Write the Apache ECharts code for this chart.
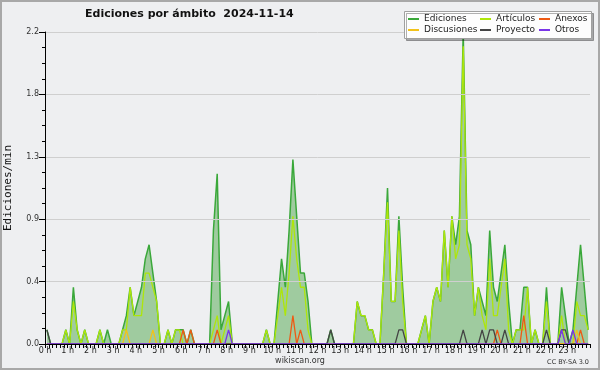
<!DOCTYPE html>
<html><head><meta charset="utf-8">
<script src="https://cdn.jsdelivr.net/npm/echarts@6/dist/echarts.min.js"></script>
<style>html,body{margin:0;padding:0;background:#eeeff1}#c{width:600px;height:370px}</style>
</head><body><div id="c"></div>
<script>
// ---- data (edits per minute, 10-minute bins, 144 per day) ----
const titleText = 'Ediciones por ámbito  2024-11-14';
const hourLabels = ['0 h','1 h','2 h','3 h','4 h','5 h','6 h','7 h','8 h','9 h','10 h','11 h','12 h','13 h','14 h','15 h','16 h','17 h','18 h','19 h','20 h','21 h','22 h','23 h'];
const yTickLabels = ['0.0','0.4','0.9','1.3','1.8','2.2'];
const seriesNames = ['Ediciones','Artículos','Anexos','Discusiones','Proyecto','Otros'];

const ediciones = [
 0.1,0,0,0,0,0.1,0,0.4,0.1,0,0.1,0,
 0,0,0.1,0,0.1,0,0,0,0.1,0.2,0.4,0.2,
 0.3,0.4,0.6,0.7,0.5,0.3,0,0,0.1,0,0.1,0.1,
 0.1,0,0.1,0,0,0,0,0,0.8,1.2,0.1,0.2,
 0.3,0,0,0,0,0,0,0,0,0,0.1,0,
 0,0.3,0.6,0.4,0.8,1.3,0.9,0.5,0.5,0.3,0,0,
 0,0,0,0.1,0,0,0,0,0,0,0.3,0.2,
 0.2,0.1,0.1,0,0,0.5,1.1,0.3,0.3,0.9,0.4,0,
 0,0,0,0.1,0.2,0,0.3,0.4,0.3,0.8,0.4,0.9,
 0.7,0.9,2.2,0.8,0.7,0.2,0.4,0.3,0.2,0.8,0.4,0.3,
 0.5,0.7,0.3,0,0.1,0.1,0.4,0.4,0,0.1,0,0,
 0.4,0,0,0,0.4,0.2,0,0.1,0.4,0.7,0.4,0.1
];
const articulos = [
 0,0,0,0,0,0.1,0,0.3,0.1,0,0.1,0,
 0,0,0.1,0,0,0,0,0,0.1,0.1,0.4,0.2,
 0.2,0.2,0.5,0.5,0.4,0.3,0,0,0.1,0,0.1,0.1,
 0,0,0,0,0,0,0,0,0.1,0.2,0,0.1,
 0.2,0,0,0,0,0,0,0,0,0,0.1,0,
 0,0.2,0.4,0.2,0.5,0.9,0.6,0.4,0.4,0.1,0,0,
 0,0,0,0,0,0,0,0,0,0,0.3,0.2,
 0.2,0.1,0.1,0,0,0.5,1.0,0.3,0.3,0.8,0.3,0,
 0,0,0,0.1,0.2,0,0.3,0.4,0.3,0.8,0.4,0.9,
 0.6,0.7,2.1,0.7,0.6,0.2,0.4,0.2,0.1,0.6,0.2,0.2,
 0.4,0.6,0.1,0,0.1,0.1,0.1,0.4,0,0.1,0,0,
 0.3,0,0,0,0.2,0,0,0,0.3,0.2,0.2,0.1
];
const anexos = [
 0,0,0,0,0,0,0,0,0,0,0,0,
 0,0,0,0,0,0,0,0,0,0,0,0,
 0,0,0,0,0,0,0,0,0,0,0,0,
 0.1,0,0.1,0,0,0,0,0,0,0.1,0,0,
 0,0,0,0,0,0,0,0,0,0,0,0,
 0,0,0,0,0,0.2,0,0.1,0,0,0,0,
 0,0,0,0,0,0,0,0,0,0,0,0,
 0,0,0,0,0,0,0,0,0,0,0,0,
 0,0,0,0,0,0,0,0,0,0,0,0,
 0,0,0,0,0,0,0,0,0,0,0,0.1,
 0,0,0,0,0,0,0.2,0,0,0,0,0,
 0,0,0,0,0,0,0,0,0,0.1,0,0
];
const discusiones = [
 0,0,0,0,0,0,0,0,0,0,0,0,
 0,0,0,0,0,0,0,0,0,0.1,0,0,
 0,0,0,0,0.1,0,0,0,0,0,0,0,
 0,0,0,0,0,0,0,0,0,0,0,0,
 0,0,0,0,0,0,0,0,0,0,0,0,
 0,0,0,0,0,0,0,0,0,0,0,0,
 0,0,0,0,0,0,0,0,0,0,0,0,
 0,0,0,0,0,0,0,0,0,0,0,0,
 0,0,0,0,0,0,0,0,0,0,0,0,
 0,0,0,0,0,0,0,0,0,0,0,0,
 0,0,0,0,0,0,0,0,0,0,0,0,
 0,0,0,0,0,0,0,0,0.1,0,0,0
];
const proyecto = [
 0.1,0,0,0,0,0,0,0,0,0,0,0,
 0,0,0,0,0,0,0,0,0,0,0,0,
 0,0,0,0,0,0,0,0,0,0,0,0,
 0,0,0,0,0,0,0,0,0,0,0,0,
 0,0,0,0,0,0,0,0,0,0,0,0,
 0,0,0,0,0,0,0,0,0,0,0,0,
 0,0,0,0.1,0,0,0,0,0,0,0,0,
 0,0,0,0,0,0,0,0,0,0.1,0.1,0,
 0,0,0,0,0,0,0,0,0,0,0,0,
 0,0,0.1,0,0,0,0,0.1,0,0.1,0.1,0,
 0,0.1,0,0,0,0,0,0,0,0,0,0,
 0.1,0,0,0,0.1,0.1,0,0,0,0,0,0
];
const otros = [
 0,0,0,0,0,0,0,0,0,0,0,0,
 0,0,0,0,0,0,0,0,0,0,0,0,
 0,0,0,0,0,0,0,0,0,0,0,0,
 0,0,0,0,0,0,0,0,0,0,0,0,
 0.1,0,0,0,0,0,0,0,0,0,0,0,
 0,0,0,0,0,0,0,0,0,0,0,0,
 0,0,0,0,0,0,0,0,0,0,0,0,
 0,0,0,0,0,0,0,0,0,0,0,0,
 0,0,0,0,0,0,0,0,0,0,0,0,
 0,0,0,0,0,0,0,0,0,0,0,0,
 0,0,0,0,0,0,0,0,0,0,0,0,
 0,0,0,0,0.1,0,0,0.1,0,0,0,0
];

// ---- build ----
const BINS_PER_HOUR = 6;
const toPts = arr => arr.map((v, i) => [(i + 0.5) / BINS_PER_HOUR, v]);
const colors = ['#3aa83a','#aee60a','#ee5a14','#f2c21a','#444444','#7a35e8'];
const values = [ediciones, articulos, anexos, discusiones, proyecto, otros];
const FONT = 'DejaVu Sans';

const series = values.map((arr, k) => {
  const s = {
    name: seriesNames[k], type: 'line', data: toPts(arr),
    showSymbol: false, symbol: 'none', silent: true,
    lineStyle: { color: colors[k], width: k === 0 ? 1.5 : 1.3 },
    itemStyle: { color: colors[k] },
    z: 2
  };
  if (k === 0) s.areaStyle = { color: '#9fcb9f', opacity: 1 };
  return s;
});

const legendCommon = {
  orient: 'vertical', top: 14, padding: 0, itemGap: 1,
  icon: 'rect', itemWidth: 11, itemHeight: 2, selectedMode: false, z: 12,
  textStyle: { fontFamily: FONT, fontSize: 9, color: '#222', lineHeight: 10 }
};

const chart = echarts.init(document.getElementById('c'), null, { renderer: 'canvas' });
chart.setOption({
  animation: false,
  backgroundColor: '#eeeff1',
  title: {
    text: titleText, left: 80, top: 4,
    textStyle: { fontFamily: FONT, fontSize: 11, fontWeight: 'bold', color: '#111' }
  },
  grid: { left: 45, right: 10, top: 32, bottom: 26, containLabel: false, outerBoundsMode: 'none' },
  xAxis: {
    type: 'value', min: 0, max: 24, interval: 1, z: 8,
    axisLine: { show: true, onZero: false, lineStyle: { color: '#000', width: 1 } },
    axisTick: { show: true, length: 4, lineStyle: { color: '#000' } },
    minorTick: { show: true, splitNumber: 6, length: 4, lineStyle: { color: '#000' } },
    axisLabel: { fontFamily: FONT, fontSize: 8, color: '#222', margin: 3,
      formatter: v => (v < 24 ? hourLabels[Math.round(v)] : '') },
    splitLine: { show: false }
  },
  yAxis: {
    type: 'value', min: 0, max: 2.2, interval: 0.44, z: 8,
    name: 'Ediciones/min', nameLocation: 'middle', nameGap: 31, nameRotate: 90,
    nameTextStyle: { fontFamily: 'DejaVu Sans Mono', fontSize: 11, color: '#111' },
    axisLine: { show: true, lineStyle: { color: '#000', width: 1 } },
    axisTick: { show: true, length: 6, lineStyle: { color: '#000' } },
    minorTick: { show: true, splitNumber: 4, length: 3, lineStyle: { color: '#000' } },
    axisLabel: { fontFamily: FONT, fontSize: 8, color: '#333', margin: 6,
      formatter: v => yTickLabels[Math.round(v / 0.44)] },
    splitLine: { show: true, lineStyle: { color: '#cfcfcf', width: 1 } }
  },
  legend: [
    Object.assign({}, legendCommon, { left: 408, data: [seriesNames[0], seriesNames[3]] }),
    Object.assign({}, legendCommon, { left: 480, data: [seriesNames[1], seriesNames[4]] }),
    Object.assign({}, legendCommon, { left: 539, data: [seriesNames[2], seriesNames[5]] })
  ],
  graphic: [
    { type: 'rect', z: 10, shape: { x: 404.5, y: 11.5, width: 187, height: 27 },
      style: { fill: '#fdfdfd', stroke: '#a0a0a0', lineWidth: 1,
        shadowColor: 'rgba(0,0,0,0.3)', shadowOffsetX: 2, shadowOffsetY: 2, shadowBlur: 0 } },
    { type: 'rect', z: 20, shape: { x: 1, y: 1, width: 598, height: 368 },
      style: { fill: 'none', stroke: '#a8a8a8', lineWidth: 2 } },
    { type: 'text', z: 20, x: 300, y: 361,
      style: { text: 'wikiscan.org', font: '8px "DejaVu Sans"', fill: '#333', align: 'center', verticalAlign: 'middle' } },
    { type: 'text', z: 20, x: 589, y: 362,
      style: { text: 'CC BY-SA 3.0', font: '6.5px "DejaVu Sans"', fill: '#333', align: 'right', verticalAlign: 'middle' } }
  ],
  series: series
});
</script></body></html>
